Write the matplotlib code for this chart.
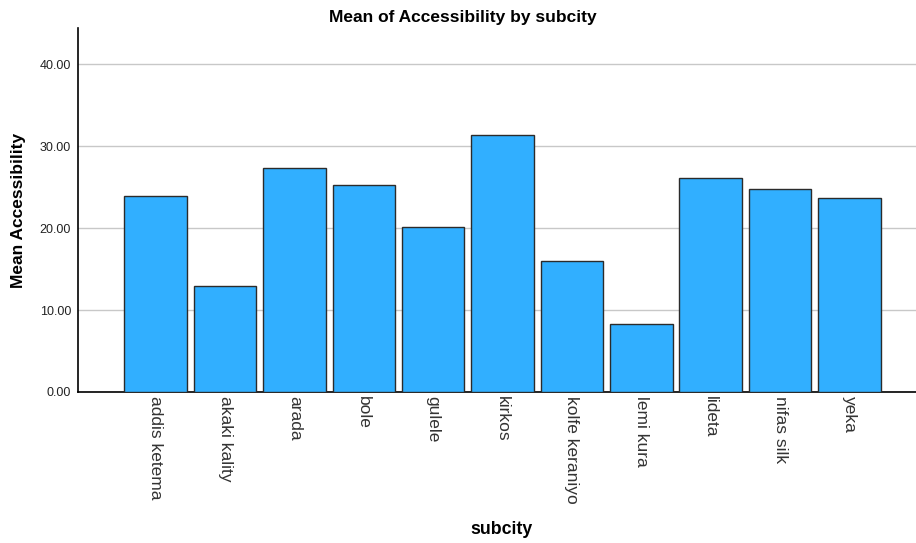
import matplotlib.pyplot as plt

# ==============================
# Data
# ==============================
subcities = ['addis ketema', 'akaki kality', 'arada', 'bole', 'gulele', 'kirkos',
             'kolfe keraniyo', 'lemi kura', 'lideta', 'nifas silk', 'yeka']
mean_access = [23.95, 12.95, 27.35, 25.3, 20.15, 31.3, 15.95, 8.35, 26.15, 24.8, 23.7]
y_ticks = [0, 10, 20, 30, 40]

plt.rcParams['font.family'] = ['Liberation Sans', 'DejaVu Sans']

fig = plt.figure(figsize=(9.16, 5.43), dpi=100)
ax = fig.add_axes([78 / 916, 151 / 543, 1 - 78 / 916, 364 / 543])

x = range(len(subcities))
ax.bar(x, mean_access, width=0.9, color='#31AFFF', edgecolor='#2b2b2b', linewidth=1.0, zorder=3)

ax.set_xlim(-1.12, 10.96)
ax.set_ylim(0, 44.4)
ax.set_yticks(y_ticks)
ax.set_yticklabels([f"{v:.2f}" for v in y_ticks], fontsize=9, color='#222222')
ax.set_xticks(list(x))
ax.set_xticklabels(subcities, rotation=-90, fontsize=12.5, color='#333333')
ax.tick_params(length=0)
ax.tick_params(axis='y', pad=5)
ax.tick_params(axis='x', pad=3)
ax.grid(axis='y', color='#c8c8c8', linewidth=1.0, zorder=0)

for s in ['top', 'right']:
    ax.spines[s].set_visible(False)
ax.spines['left'].set_linewidth(1.2)
ax.spines['bottom'].set_linewidth(1.2)

# titles and axis labels
fig.text(0.505, 0.968, "Mean of Accessibility by subcity", ha='center', va='center',
         fontsize=12.5, fontweight='bold')
fig.text(0.020, 0.613, "Mean Accessibility", ha='center', va='center', rotation=90,
         fontsize=12.5, fontweight='bold')
fig.text(0.548, 0.024, "subcity", ha='center', va='center',
         fontsize=12.8, fontweight='bold')

plt.savefig("out.png", dpi=100)
plt.close()
